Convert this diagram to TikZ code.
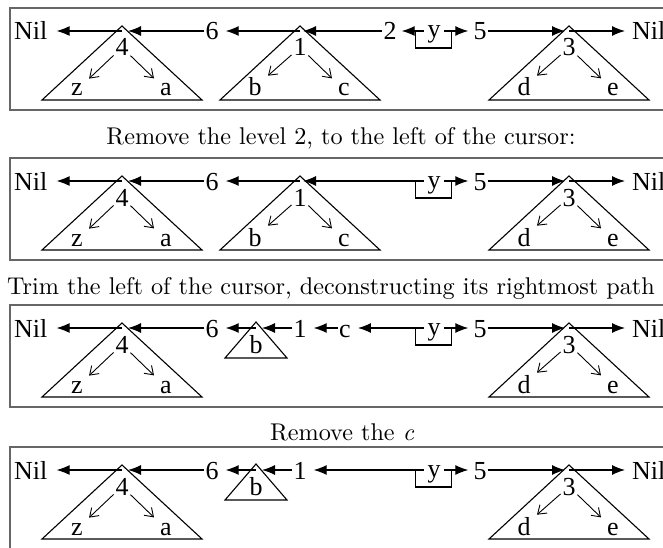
\documentclass[tikz,border=0pt]{standalone}
\usepackage{fontspec}
\newfontfamily\labfont{Liberation Serif}
\newfontfamily\capfont{lmroman10-regular}[Extension=.otf, ItalicFont=lmroman10-italic]
\usetikzlibrary{arrows.meta}
\tikzset{
  lab/.style={font=\labfont\fontsize{26}{26}\selectfont, inner sep=1pt, text height=18pt, text depth=0pt},
  ylab/.style={lab, text height=14pt, minimum width=36pt},
  leaf/.style={font=\labfont\fontsize{26}{26}\selectfont, inner sep=1pt},
  captext/.style={font=\capfont\fontsize{24.2}{28}\selectfont, inner sep=0pt},
  frame/.style={draw=black!60, line width=1.2pt},
  tri/.style={draw=black, line width=1.1pt, line join=miter},
  bigarr/.style={-{Latex[length=13pt,width=10pt]}, line width=1.1pt, shorten >=6pt},
  inarr/.style={-{Straight Barb[length=8pt,width=11pt]}, line width=0.9pt, shorten <=1pt, shorten >=7pt},
  bracket/.style={draw=black, line width=1.1pt}
}
% big tree: #1 name, #2 apex x, #3 root, #4 left leaf, #5 right leaf
\newcommand\bigtree[5]{%
  \coordinate (#1) at (#2,31);
  \draw[tri] (#2,26) -- (#2-80,100) -- (#2+80,100) -- cycle;
  \node[leaf, anchor=base] (#1root) at (#2,56) {#3};
  \node[leaf, anchor=base] (#1l) at (#2-45,96) {#4};
  \node[leaf, anchor=base] (#1r) at (#2+44,96) {#5};
  \draw[inarr] (#1root) -- (#1l);
  \draw[inarr] (#1root) -- (#1r);
}
% small tree with one leaf: #1 name, #2 apex x, #3 label
\newcommand\smalltree[3]{%
  \coordinate (#1) at (#2,31);
  \draw[tri] (#2,25) -- (#2-31,61) -- (#2+31,61) -- cycle;
  \node[leaf, anchor=base] (#1lab) at (#2,56) {#3};
}
% y cursor with bracket: #1 name
\newcommand\cursor[1]{%
  \node[ylab] (#1) at (434,31) {y};
  \draw[bracket] ([xshift=8pt]#1.west) -- (#1.west) -- ++(0,17) -- ++(36,0) -- ++(0,-17) -- ++(-8,0);
}
% common parts: Nil, tree 4, tree 3, 5, Nil
\newcommand\panelbase[1]{%
  \draw[frame] (10,8) rectangle (700,110);
  \node[lab, anchor=west] (#1nilL) at (13,31) {Nil};
  \bigtree{#1ta}{122}{4}{z}{a}
  \node[lab] (#1six) at (212,31) {6};
  \node[lab] (#1five) at (480,31) {5};
  \bigtree{#1tc}{569}{3}{d}{e}
  \node[lab, anchor=west] (#1nilR) at (631,31) {Nil};
  \draw[bigarr, shorten >=8pt] (#1ta) -- (#1nilL);
  \draw[bigarr] (#1six) -- (#1ta);
  \draw[bigarr, shorten >=4pt] (#1five) -- (#1tc);
  \draw[bigarr] (#1tc) -- (#1nilR);
}
\begin{document}
\begin{tikzpicture}[x=1pt,y=-1pt]
\clip (0,0) rectangle (663,548);
\useasboundingbox (0,0) rectangle (663,548);

% ---------- panel 1 ----------
\begin{scope}
  \panelbase{pa}
  \bigtree{patb}{300}{1}{b}{c}
  \node[lab] (patwo) at (390,31) {2};
  \cursor{pay}
  \draw[bigarr] (patb) -- (pasix);
  \draw[bigarr, shorten >=3pt] (patwo) -- (patb);
  \draw[bigarr, shorten >=4pt] (pay) -- (patwo);
  \draw[bigarr, shorten >=4pt] (pay) -- (pafive);
\end{scope}

\node[captext, anchor=base] (capa) at (341,145) {Remove the level 2, to the left of the cursor:};

% ---------- panel 2 ----------
\begin{scope}[yshift=-150pt]
  \panelbase{pb}
  \bigtree{pbtb}{300}{1}{b}{c}
  \cursor{pby}
  \draw[bigarr] (pbtb) -- (pbsix);
  \draw[bigarr, shorten >=3pt] (pby) -- (pbtb);
  \draw[bigarr, shorten >=4pt] (pby) -- (pbfive);
\end{scope}

\node[captext, anchor=base west] (capb) at (7,294) {Trim the left of the cursor, deconstructing its rightmost path};

% ---------- panel 3 ----------
\begin{scope}[yshift=-297pt]
  \panelbase{pc}
  \smalltree{pctb}{256}{b}
  \node[lab] (pcone) at (300,31) {1};
  \node[lab] (pcc) at (345,31) {c};
  \cursor{pcy}
  \draw[bigarr] (pctb) -- (pcsix);
  \draw[bigarr] (pcone) -- (pctb);
  \draw[bigarr] (pcc) -- (pcone);
  \draw[bigarr] (pcy) -- (pcc);
  \draw[bigarr, shorten >=4pt] (pcy) -- (pcfive);
\end{scope}

\node[captext, anchor=base] (capc) at (342,440) {Remove the {\itshape c}};

% ---------- panel 4 ----------
\begin{scope}[yshift=-439pt]
  \panelbase{pd}
  \smalltree{pdtb}{256}{b}
  \node[lab] (pdone) at (300,31) {1};
  \cursor{pdy}
  \draw[bigarr] (pdtb) -- (pdsix);
  \draw[bigarr] (pdone) -- (pdtb);
  \draw[bigarr] (pdy) -- (pdone);
  \draw[bigarr, shorten >=4pt] (pdy) -- (pdfive);
\end{scope}
\end{tikzpicture}
\end{document}
